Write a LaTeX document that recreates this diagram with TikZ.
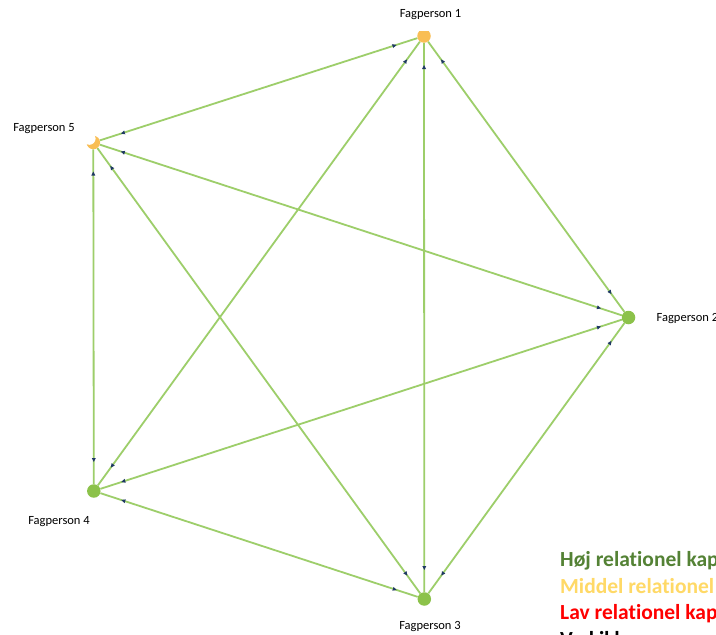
\documentclass[tikz,border=0pt]{standalone}
\usepackage{fontspec}
\setmainfont{Carlito}[Ligatures=NoCommon]
\usetikzlibrary{calc}

\definecolor{edgegreen}{HTML}{9DCE6A}
\definecolor{nodegreen}{HTML}{8CC24A}
\definecolor{nodeorange}{HTML}{F9BE55}
\definecolor{tipnavy}{HTML}{1F3864}
\definecolor{highgreen}{HTML}{548235}
\definecolor{midyellow}{HTML}{FFD966}
\definecolor{lowred}{HTML}{FF0000}

\tikzset{
  person/.style={circle, minimum size=13.5pt, inner sep=0pt, draw=none},
  highnode/.style={person, fill=nodegreen},
  midnode/.style={person, fill=nodeorange},
  namelabel/.style={font=\fontsize{12.5}{14}\selectfont, text=black, inner sep=0pt},
  legendline/.style={font=\bfseries\fontsize{21.5}{25}\selectfont, anchor=base west, inner sep=0pt},
  link/.style={draw=edgegreen, line width=1.8pt},
  headmark/.style={fill=tipnavy, draw=none},
}

% small head on the link from #1 towards #2, pointing at #1
\newcommand\headat[2]{%
  \coordinate (tipA) at ($(c#1)!29pt!(c#2)$);
  \coordinate (tipB) at ($(c#1)!33pt!(c#2)$);
  \fill[headmark] (tipA) -- ($(tipB)!2pt!90:(tipA)$) -- ($(tipB)!2pt!-90:(tipA)$) -- cycle;
}
% a link between two persons, with a small head near each end
\newcommand\twoway[2]{%
  \draw[link] (p#1) -- (p#2);
  \headat{#1}{#2}
  \headat{#2}{#1}
}

\begin{document}
\begin{tikzpicture}[x=1pt, y=-1pt]
  \clip (0,0) rectangle (716,635);
  \fill[white] (0,0) rectangle (716,635);

  % the five persons
  \coordinate (c1) at (424,36);
  \coordinate (c2) at (628.5,317.5);
  \coordinate (c3) at (424.3,599);
  \coordinate (c4) at (93.8,491);
  \coordinate (c5) at (93.3,142.5);

  \node[person] (p1) at (c1) {};
  \node[person] (p2) at (c2) {};
  \node[person] (p3) at (c3) {};
  \node[person] (p4) at (c4) {};
  \node[person] (p5) at (c5) {};

  % every pair is linked in both directions
  \twoway{1}{5}
  \twoway{1}{4}
  \twoway{1}{3}
  \twoway{1}{2}
  \twoway{5}{4}
  \twoway{5}{3}
  \twoway{5}{2}
  \twoway{4}{2}
  \twoway{4}{3}
  \twoway{3}{2}

  % dots
  \begin{scope}
    \clip (380,31.5) rectangle (470,60);
    \node[midnode] at (c1) {};
  \end{scope}
  \node[highnode] at (c2) {};
  \node[highnode] at (c3) {};
  \node[highnode] at (c4) {};
  \node[midnode] at (c5) {};
  \fill[white] (89.3,138.5) circle (6.3pt);

  % names
  \node[namelabel] (n1) at (430.5,15) {Fagperson 1};
  \node[namelabel, anchor=west] (n2) at (656.5,319) {Fagperson 2};
  \node[namelabel] (n3) at (430,627) {Fagperson 3};
  \node[namelabel] (n4) at (59,522) {Fagperson 4};
  \node[namelabel] (n5) at (44,129) {Fagperson 5};

  % legend
  \node[legendline, text=highgreen] (l1) at (560,566) {Høj relationel kapacitet};
  \node[legendline, text=midyellow] (l2) at (560,593) {Middel relationel kapacitet};
  \node[legendline, text=lowred] (l3) at (560,619.5) {Lav relationel kapacitet};
  \node[legendline, text=black] (l4) at (560,646.5) {Ved ikke};
\end{tikzpicture}
\end{document}
